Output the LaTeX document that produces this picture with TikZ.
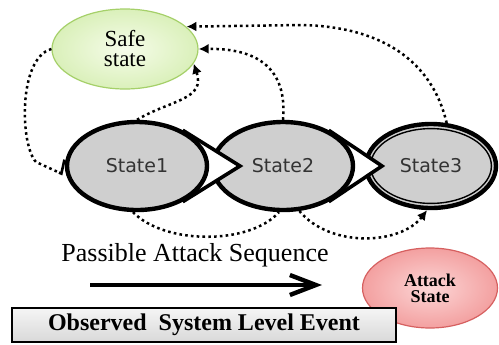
\documentclass[tikz,border=0pt]{standalone}
\usepackage{fontspec}
\setmainfont{Liberation Serif}
\newfontfamily\statefont{DejaVu Sans}
\usepackage{xcolor}
\usetikzlibrary{shapes.geometric,arrows.meta}
\definecolor{stateGray}{RGB}{207,207,207}
\definecolor{safeLight}{RGB}{246,252,234}
\definecolor{safeFill}{RGB}{218,240,186}
\definecolor{safeEdge}{RGB}{165,208,105}
\definecolor{attackLight}{RGB}{252,214,214}
\definecolor{attackFill}{RGB}{243,160,160}
\definecolor{attackEdge}{RGB}{214,96,96}
\pgfdeclarelayer{lay1}
\pgfdeclarelayer{lay2}
\pgfdeclarelayer{lay3}
\pgfdeclarelayer{lay4}
\pgfsetlayers{lay1,lay2,lay3,lay4,main}

\tikzset{
    stateNode/.style={ellipse, draw=black, line width=2.2pt, fill=stateGray,
        minimum width=70pt, minimum height=44pt, inner sep=0pt,
        font=\statefont\fontsize{9.5}{11}\selectfont, text=black!80},
    pointer/.style={fill=white, draw=black, line width=1.8pt, line join=miter},
    dotLink/.style={line width=1.25pt, dash pattern=on 1.3pt off 1.6pt},
    tipLink/.style={dotLink, -{Latex[length=5pt,width=5pt]}}
}

\begin{document}
\begin{tikzpicture}[x=0.5pt,y=0.5pt]
    \useasboundingbox (0,0) rectangle (499,-344);

    % states
    \node[stateNode] (state1) at (137,-166) {State1};
    \begin{pgfonlayer}{lay3}
        \node[stateNode] (state2) at (283,-166) {State2};
    \end{pgfonlayer}
    \begin{pgfonlayer}{lay1}
        \node[stateNode, minimum width=65pt, minimum height=42pt] (state3) at (431,-166) {State3};
        \draw[line width=.7pt] (state3.center) ellipse [x radius=30.2pt, y radius=18.7pt];
    \end{pgfonlayer}
    \coordinate (tip1) at (240,-166);
    \coordinate (tip2) at (382,-166);
    \begin{pgfonlayer}{lay4}
        \filldraw[pointer] (state1.38) -- (tip1) -- (state1.-38);
    \end{pgfonlayer}
    \begin{pgfonlayer}{lay2}
        \filldraw[pointer] (state2.38) -- (tip2) -- (state2.-38);
    \end{pgfonlayer}

    \node[ellipse, draw=safeEdge, line width=.6pt, inner color=safeLight, outer color=safeFill,
        minimum width=73pt, minimum height=40pt, inner sep=0pt, align=center,
        font=\fontsize{11.5}{10}\selectfont] (safe) at (125,-49) {Safe\\state};

    \node[ellipse, draw=attackEdge, line width=.6pt, inner color=attackLight, outer color=attackFill,
        minimum width=67.5pt, minimum height=40pt, inner sep=0pt, align=center,
        font=\bfseries\fontsize{9}{8}\selectfont] (attack) at (430,-288) {Attack\\State};

    \node[draw=black, line width=.8pt, top color=gray!8, bottom color=gray!30,
        minimum width=192pt, minimum height=17pt, inner sep=0pt,
        font=\bfseries\fontsize{12}{14}\selectfont] (event) at (204,-325) {Observed\ \ System Level Event};

    \node[font=\fontsize{13}{15}\selectfont] (seqLabel) at (195,-255) {Passible Attack Sequence};
    \coordinate (seqStart) at (90,-285);
    \coordinate (seqEnd) at (322,-285);
    \draw[line width=2.2pt, -{Straight Barb[length=13pt,width=10pt,line width=2.2pt]}] (seqStart) -- (seqEnd);

    % back to safe state
    \draw[dotLink, shorten >=2pt, -{Straight Barb[left,length=1.5pt,width=14pt,line width=1.3pt]}]
        (safe.west) .. controls (18,-58) and (20,-145) .. (36,-162) -- (state1.188);
    \draw[tipLink] (state1.north) .. controls (170,-100) and (206,-100) .. (safe.-12);
    \draw[tipLink] (state2.north) .. controls (287,-75) and (265,-48) .. (safe.east);
    \draw[tipLink] (state3.70) .. controls (432,-60) and (380,-26) .. (300,-25) -- (safe.20);

    % forward
    \draw[dotLink] (state1.265) .. controls (165,-245) and (250,-245) .. (state2.265);
    \draw[tipLink] (state2.290) .. controls (330,-248) and (400,-245) .. (state3.265);
\end{tikzpicture}
\end{document}
